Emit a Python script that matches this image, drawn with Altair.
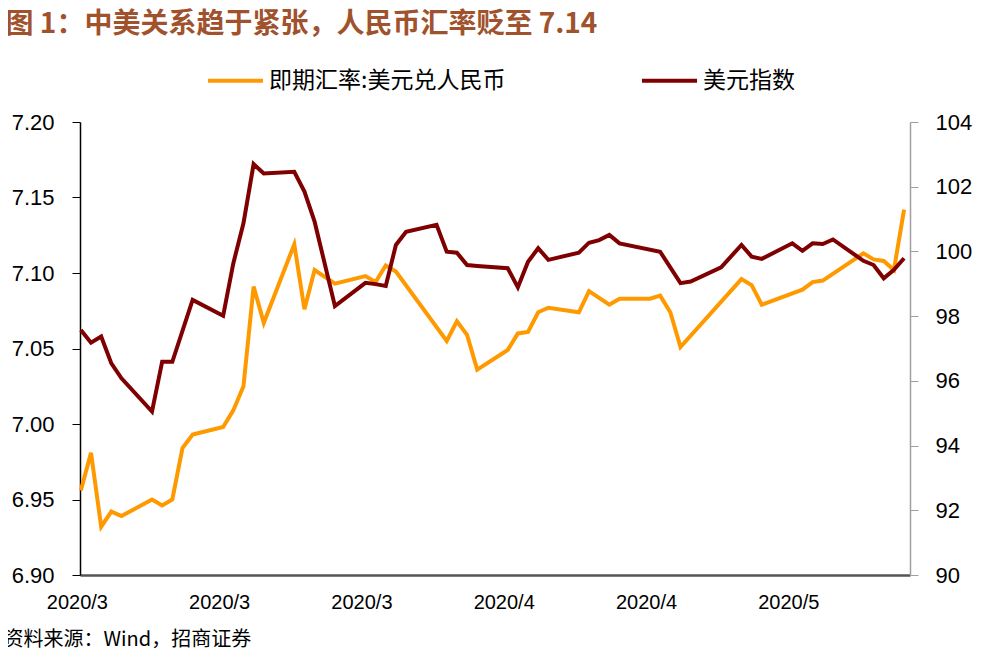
import altair as alt
import pandas as pd

TITLE = "图 1：中美关系趋于紧张，人民币汇率贬至 7.14"
SOURCE = "资料来源：Wind，招商证券"
CNY_NAME = "即期汇率:美元兑人民币"
DXY_NAME = "美元指数"

cny_dates = ["2020-03-02", "2020-03-03", "2020-03-04", "2020-03-05", "2020-03-06",
             "2020-03-09", "2020-03-10", "2020-03-11", "2020-03-12", "2020-03-13",
             "2020-03-16", "2020-03-17", "2020-03-18", "2020-03-19", "2020-03-20",
             "2020-03-23", "2020-03-24", "2020-03-25", "2020-03-27",
             "2020-03-30", "2020-03-31", "2020-04-01", "2020-04-02",
             "2020-04-07", "2020-04-08", "2020-04-09", "2020-04-10",
             "2020-04-13", "2020-04-14", "2020-04-15", "2020-04-16", "2020-04-17",
             "2020-04-20", "2020-04-21", "2020-04-23", "2020-04-24",
             "2020-04-27", "2020-04-28", "2020-04-29", "2020-04-30",
             "2020-05-06", "2020-05-07", "2020-05-08",
             "2020-05-12", "2020-05-13", "2020-05-14",
             "2020-05-18", "2020-05-19", "2020-05-20", "2020-05-21", "2020-05-22"]
cny_values = [6.956, 6.981, 6.932, 6.942, 6.939,
              6.950, 6.946, 6.950, 6.984, 6.993,
              6.998, 7.009, 7.025, 7.091, 7.067,
              7.119, 7.076, 7.102, 7.093,
              7.098, 7.094, 7.105, 7.101,
              7.055, 7.068, 7.059, 7.036,
              7.049, 7.060, 7.061, 7.074, 7.077,
              7.074, 7.088, 7.079, 7.083,
              7.083, 7.085, 7.074, 7.051,
              7.096, 7.092, 7.079,
              7.089, 7.094, 7.095,
              7.113, 7.109, 7.108, 7.102, 7.142]

dxy_dates = ["2020-03-02", "2020-03-03", "2020-03-04", "2020-03-05", "2020-03-06",
             "2020-03-09", "2020-03-10", "2020-03-11", "2020-03-13",
             "2020-03-16", "2020-03-17", "2020-03-18", "2020-03-19", "2020-03-20",
             "2020-03-23", "2020-03-24", "2020-03-25", "2020-03-27",
             "2020-03-30", "2020-03-31", "2020-04-01", "2020-04-02", "2020-04-03",
             "2020-04-06", "2020-04-07", "2020-04-08", "2020-04-09", "2020-04-10",
             "2020-04-13", "2020-04-14", "2020-04-15", "2020-04-16", "2020-04-17",
             "2020-04-20", "2020-04-21", "2020-04-22", "2020-04-23", "2020-04-24",
             "2020-04-28", "2020-04-30", "2020-05-01",
             "2020-05-04", "2020-05-06", "2020-05-07", "2020-05-08",
             "2020-05-11", "2020-05-12", "2020-05-13", "2020-05-14", "2020-05-15",
             "2020-05-18", "2020-05-19", "2020-05-20", "2020-05-21", "2020-05-22"]
dxy_values = [97.57, 97.18, 97.37, 96.54, 96.08,
              95.05, 96.59, 96.59, 98.50,
              98.01, 99.63, 100.87, 102.70, 102.41,
              102.46, 101.85, 100.92, 98.31,
              99.03, 98.99, 98.93, 100.20, 100.61,
              100.82, 99.99, 99.96, 99.58, 99.55,
              99.48, 98.89, 99.68, 100.10, 99.74,
              99.96, 100.27, 100.35, 100.51, 100.25,
              99.99, 99.02, 99.07,
              99.51, 100.20, 99.84, 99.77,
              100.25, 100.02, 100.25, 100.23, 100.37,
              99.71, 99.58, 99.17, 99.43, 99.79]

left_ticks = [6.90, 6.95, 7.00, 7.05, 7.10, 7.15, 7.20]
right_ticks = [90, 92, 94, 96, 98, 100, 102, 104]
x_tick_days = [(2020, 3, 2), (2020, 3, 16), (2020, 3, 30), (2020, 4, 13), (2020, 4, 27), (2020, 5, 11)]

ORANGE = "#FF9900"
MAROON = "#7F0000"

cny = pd.DataFrame({"date": cny_dates, "value": cny_values, "series": CNY_NAME})
dxy = pd.DataFrame({"date": dxy_dates, "value": dxy_values, "series": DXY_NAME})

# x axis; its title carries the source note below the chart
x_enc = alt.X(
    "date:T",
    scale=alt.Scale(type="utc",
                    domain=[alt.DateTime(year=2020, month=3, date=1, hours=22, utc=True),
                            alt.DateTime(year=2020, month=5, date=22, hours=14, utc=True)]),
    axis=alt.Axis(values=[alt.DateTime(year=y, month=m, date=d, utc=True) for y, m, d in x_tick_days],
                  labelExpr="utcFormat(datum.value, '%Y/%-m')", grid=False, ticks=False,
                  domainColor="#555555", domainWidth=2.5, labelPadding=17, labelOffset=-4,
                  labelFlush=False, labelOverlap=False,
                  labelFont="Liberation Sans", labelFontSize=20, labelColor="#000000",
                  title=SOURCE, titleX=-77, titleY=64, titleAlign="left", titleBaseline="middle",
                  titleFont="Noto Sans CJK SC", titleFontSize=20, titleFontWeight="normal",
                  titleColor="#000000"),
)

color_enc = alt.Color(
    "series:N",
    scale=alt.Scale(domain=[CNY_NAME, DXY_NAME], range=[ORANGE, MAROON]),
    legend=alt.Legend(title=None, orient="none", legendX=126, legendY=-71, direction="horizontal",
                      symbolType="stroke", symbolSize=3025, symbolStrokeWidth=4,
                      labelFont="Noto Sans CJK SC", labelFontSize=23, labelColor="#000000",
                      labelLimit=0, labelOffset=4, columnPadding=128, padding=0),
)

# left axis; its title carries the figure heading at the top-left
cny_line = alt.Chart(cny).mark_line(strokeWidth=4).encode(
    x=x_enc,
    y=alt.Y("value:Q", scale=alt.Scale(domain=[6.90, 7.20], nice=False, zero=False),
            axis=alt.Axis(orient="left", values=left_ticks, format=".2f", grid=False,
                          domainColor="#000000", domainWidth=1.5, tickColor="#000000", tickSize=8,
                          labelPadding=18, labelFont="Liberation Sans", labelFontSize=22,
                          labelColor="#000000",
                          title=TITLE, titleAngle=0, titleX=-75, titleY=-98, titleAlign="left",
                          titleBaseline="middle", titleFont="Noto Sans CJK SC", titleFontSize=28,
                          titleFontWeight="bold", titleColor="#A0522D", titleLimit=0)),
    color=color_enc,
)

dxy_line = alt.Chart(dxy).mark_line(strokeWidth=4).encode(
    x=x_enc,
    y=alt.Y("value:Q", scale=alt.Scale(domain=[90, 104], nice=False, zero=False),
            axis=alt.Axis(orient="right", values=right_ticks, format="d", title=None, grid=False,
                          domainColor="#A0A0A0", domainWidth=1.5, tickColor="#A0A0A0", tickSize=8,
                          labelPadding=17, labelFont="Liberation Sans", labelFontSize=22,
                          labelColor="#000000")),
    color=color_enc,
)

chart = alt.layer(cny_line, dxy_line).resolve_scale(
    y="independent"
).properties(
    width=830, height=453,
    autosize=alt.AutoSizeParams(type="none"),
    padding={"left": 72, "top": 114, "right": 68, "bottom": 77},
).configure_view(stroke=None)

chart.save("out.html", embed_options={"renderer": "svg", "actions": False})
